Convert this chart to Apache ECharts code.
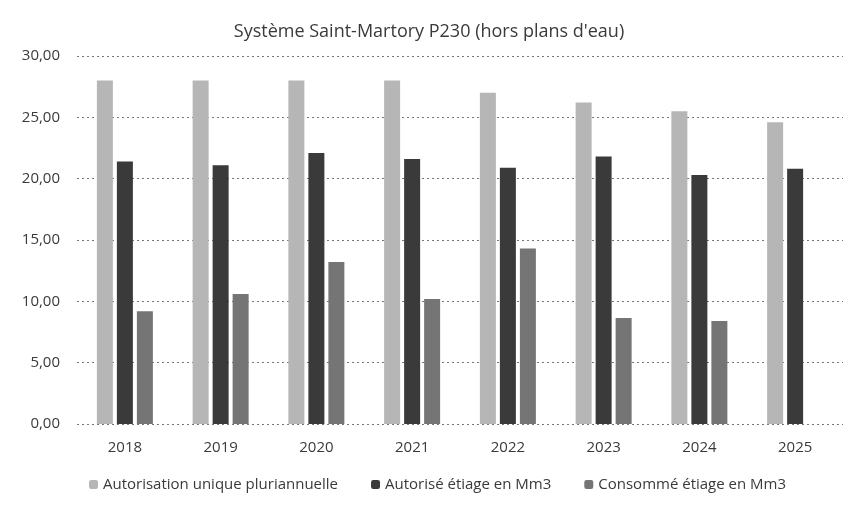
<!DOCTYPE html>
<html>
<head>
<meta charset="utf-8">
<script src="https://cdn.jsdelivr.net/npm/echarts@6/dist/echarts.min.js"></script>
<style>
  html, body { margin: 0; padding: 0; background: #fff; }
  #chart { width: 858px; height: 505px; }
</style>
</head>
<body>
<div id="chart"></div>
<script>
const years = ['2018', '2019', '2020', '2021', '2022', '2023', '2024', '2025']
const autorisationUnique = [28, 28, 28, 28, 27.0, 26.2, 25.5, 24.6]
const autoriseEtiage = [21.4, 21.1, 22.1, 21.6, 20.9, 21.8, 20.3, 20.8]
const consommeEtiage = [9.2, 10.6, 13.2, 10.2, 14.3, 8.65, 8.4, null]
const seriesNames = ['Autorisation unique pluriannuelle', 'Autorisé étiage en Mm3', 'Consommé étiage en Mm3']

const chart = echarts.init(document.getElementById('chart'))
const font = '"Open Sans", "Noto Sans", sans-serif'

chart.setOption({
  animation: false,
  textStyle: { fontFamily: font },
  title: {
    text: 'Système Saint-Martory P230 (hors plans d\'eau)',
    left: 'center',
    top: 18,
    textStyle: { fontSize: 18, fontWeight: 'normal', color: '#3a3a3a', fontFamily: font }
  },
  legend: {
    bottom: 8,
    left: 84,
    itemWidth: 9,
    itemHeight: 9,
    itemGap: 33,
    textStyle: { fontSize: 15, color: '#3a3a3a', fontFamily: font },
    data: seriesNames
  },
  grid: { left: 77, right: 15, top: 56, bottom: 81 },
  xAxis: {
    type: 'category',
    data: years,
    axisLine: { show: false },
    axisTick: { show: false },
    axisLabel: { fontSize: 15, color: '#3a3a3a', margin: 16 }
  },
  yAxis: {
    type: 'value',
    min: 0,
    max: 30,
    interval: 5,
    axisLabel: {
      fontSize: 15,
      color: '#3a3a3a',
      margin: 17,
      formatter: v => v.toFixed(2).replace('.', ',')
    },
    splitLine: { lineStyle: { type: [2, 3], color: '#777', width: 1 } }
  },
  series: [
    {
      name: seriesNames[0],
      type: 'bar',
      data: autorisationUnique,
      barWidth: 16,
      barGap: '25%',
      itemStyle: { color: '#b6b6b6' }
    },
    {
      name: seriesNames[1],
      type: 'bar',
      data: autoriseEtiage,
      barWidth: 16,
      itemStyle: { color: '#3a3a3a' }
    },
    {
      name: seriesNames[2],
      type: 'bar',
      data: consommeEtiage,
      barWidth: 16,
      itemStyle: { color: '#757575' }
    }
  ]
})
</script>
</body>
</html>
